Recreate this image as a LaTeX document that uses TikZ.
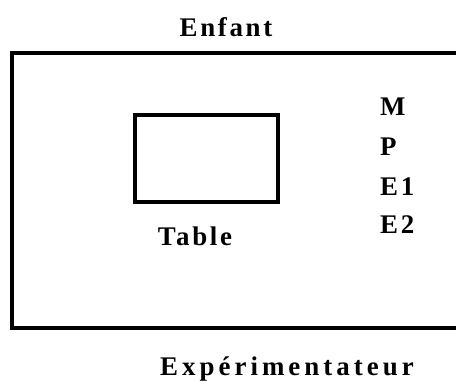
\documentclass[tikz,border=0pt]{standalone}
\usepackage{fontspec}
\newfontfamily\lblfont{Liberation Serif}[LetterSpace=10]
\newfontfamily\widelblfont{Liberation Serif}[LetterSpace=15]
\tikzset{
  lbl/.style={inner sep=0pt, font=\lblfont\bfseries\fontsize{27}{30}\selectfont},
  widelbl/.style={inner sep=0pt, font=\widelblfont\bfseries\fontsize{27}{30}\selectfont},
  frame/.style={line width=4bp, line cap=rect},
  tablebox/.style={draw, line width=4bp, minimum width=143bp, minimum height=87bp, inner sep=0pt}
}
\begin{document}
\begin{tikzpicture}[x=1bp,y=-1bp]
\useasboundingbox[fill=white] (0,0) rectangle (456,383);
% outer room frame (open on the right)
\coordinate (tr) at (470,53);
\coordinate (tl) at (12,53);
\coordinate (bl) at (12,327.5);
\coordinate (br) at (470,327.5);
\draw[frame] (tr) -- (tl) -- (bl) -- (br);
% table
\node[tablebox] (table) at (206.5,158.5) {};
\node[lbl, anchor=base] (tablelbl) at (195,245) {Table};
% labels
\node[lbl, anchor=base] (enfant) at (226,36) {Enfant};
\node[widelbl, anchor=base] (exp) at (287,375) {Expérimentateur};
\node[lbl, anchor=base west] (m) at (380,115) {M};
\node[lbl, anchor=base west] (p) at (380,155) {P};
\node[lbl, anchor=base west] (e1) at (380,195) {E1};
\node[lbl, anchor=base west] (e2) at (380,233) {E2};
\end{tikzpicture}
\end{document}
